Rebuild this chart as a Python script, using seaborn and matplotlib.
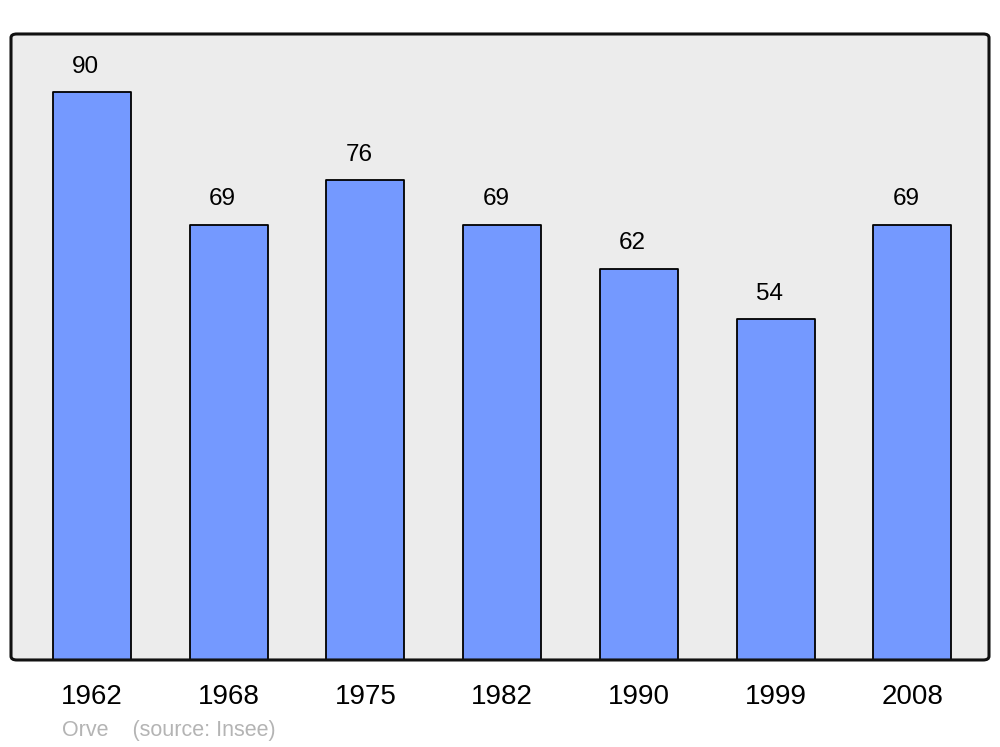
import pandas as pd
import matplotlib.pyplot as plt
import seaborn as sns
from matplotlib.patches import FancyBboxPatch

# Population of Orve (Insee)
years = ['1962', '1968', '1975', '1982', '1990', '1999', '2008']
population = [90, 69, 76, 69, 62, 54, 69]

sns.set_style('white')
plt.rcParams['font.family'] = ['Liberation Sans', 'DejaVu Sans']
plt.rcParams['text.color'] = 'black'
plt.rcParams['xtick.color'] = 'black'

df = pd.DataFrame({'year': years, 'pop': population})

fig = plt.figure(figsize=(10, 7.47), dpi=100)
ax = fig.add_axes([0.011, 0.1165, 0.978, 0.838])
ax.set_facecolor('#ececec')

sns.barplot(data=df, x='year', y='pop', color='#7499ff', saturation=1,
            width=0.57, edgecolor='black', linewidth=1.3, ax=ax)
for p in ax.patches:
    p.set_joinstyle('round')

for i, v in enumerate(population):
    ax.annotate(str(v), xy=(i, v), xytext=(-4.5, 18.3), textcoords='offset points',
                ha='center', va='center', fontsize=17.5, color='black')

ax.set_xlim(-0.592, 6.56)
ax.set_ylim(0, 99.2)
ax.set_yticks([])
ax.set_xlabel('')
ax.set_ylabel('')
ax.tick_params(axis='x', length=0, pad=17, labelsize=20, labelcolor='black')
for s in ax.spines.values():
    s.set_visible(False)

# rounded frame around the plot area
frame = FancyBboxPatch((0, 0), 1, 1, boxstyle='round,pad=0,rounding_size=0.006',
                       transform=ax.transAxes, facecolor='none', edgecolor='#111111',
                       linewidth=2.2, clip_on=False, zorder=5)
ax.add_patch(frame)

fig.text(0.062, 0.0225, 'Orve    (source: Insee)', color='#b4b4b4', fontsize=15.5,
         ha='left', va='center')

plt.savefig('out.png', dpi=100)
